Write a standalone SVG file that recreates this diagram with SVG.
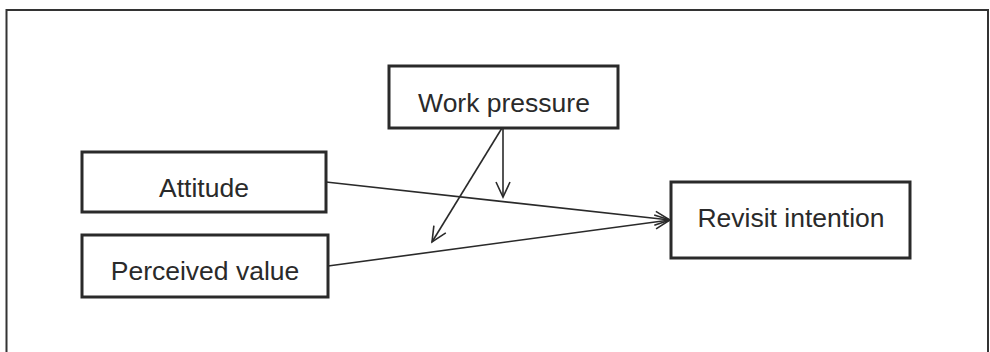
<svg xmlns="http://www.w3.org/2000/svg" width="990" height="352" viewBox="0 0 990 352">
<style>
.box{fill:#fff;stroke:#2a2a2a;stroke-width:3}
.lbl{font-family:"Liberation Sans",Arial,sans-serif;font-size:26.5px;fill:#2a2a2a;text-anchor:middle}
.conn{fill:none;stroke:#2a2a2a;stroke-width:1.6}
</style>
<defs>
<marker id="arr" markerUnits="userSpaceOnUse" markerWidth="20" markerHeight="20" viewBox="-18 -10 20 20" refX="0" refY="0" orient="auto">
<path d="M-15,-7 L0,0 L-15,7" fill="none" stroke="#2a2a2a" stroke-width="1.6"/>
</marker>
</defs>
<rect width="990" height="352" fill="#fff"/>
<path d="M6.5,352 V10 H988 V352" fill="none" stroke="#333" stroke-width="2"/>
<g id="connectors">
<line class="conn" x1="326" y1="182" x2="670" y2="220" marker-end="url(#arr)"/>
<line class="conn" x1="328" y1="266" x2="670" y2="220" marker-end="url(#arr)"/>
<line class="conn" x1="503" y1="128" x2="503" y2="197" marker-end="url(#arr)"/>
<line class="conn" x1="502" y1="128" x2="432" y2="242" marker-end="url(#arr)"/>
</g>
<g id="work-pressure">
<rect class="box" x="389" y="66" width="229" height="62"/>
<text class="lbl" x="504" y="111.5">Work pressure</text>
</g>
<g id="attitude">
<rect class="box" x="82" y="152" width="244" height="60"/>
<text class="lbl" x="204" y="196.5">Attitude</text>
</g>
<g id="perceived-value">
<rect class="box" x="82" y="235" width="246" height="62"/>
<text class="lbl" x="205" y="280">Perceived value</text>
</g>
<g id="revisit-intention">
<rect class="box" x="671" y="182" width="239" height="76"/>
<text class="lbl" x="791" y="226.5">Revisit intention</text>
</g>
</svg>
